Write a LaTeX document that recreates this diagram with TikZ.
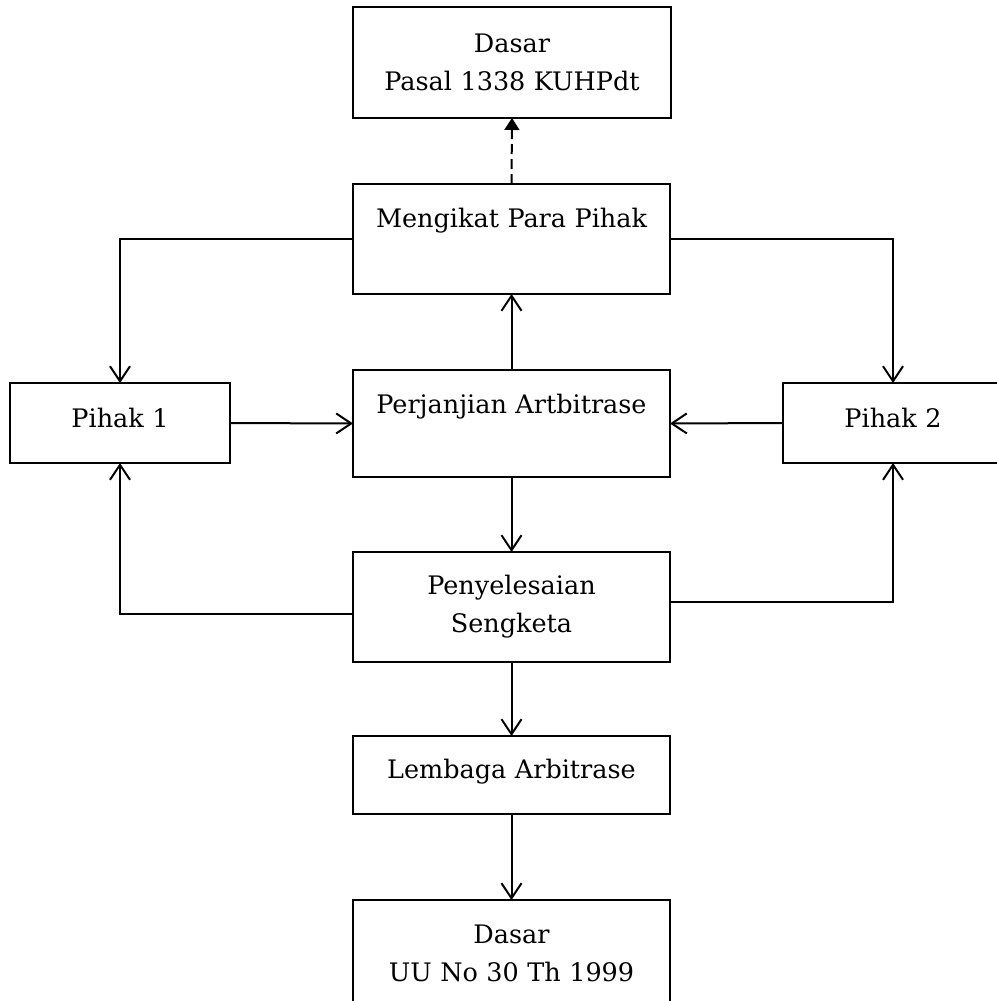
\documentclass[tikz,border=0pt]{standalone}
\usepackage{fontspec}
\setmainfont{DejaVu Serif}
\usetikzlibrary{arrows.meta}
\tikzset{
  box/.style={draw, line width=1.8pt, inner sep=0pt, outer sep=0pt, anchor=north west, align=center,
    font=\fontsize{25.5}{38.5}\selectfont},
  arr/.style={line width=2pt, -{Straight Barb[length=15pt,width=20pt,line width=2pt]}},
  darr/.style={line width=2pt, dash pattern=on 10pt off 5pt, -{Triangle[length=12pt,width=15pt]}}
}
\begin{document}
\begin{tikzpicture}[x=1pt,y=-1pt]
\useasboundingbox (0,0) rectangle (996,1001);
% boxes: text height = top->first baseline, text depth = first baseline->bottom
\node[box, text width=318pt, text height=45pt, text depth=66pt] (dasar1) at (353,7) {Dasar\\Pasal 1338 KUHPdt};
\node[box, text width=317pt, text height=43pt, text depth=67pt] (meng) at (353,184) {Mengikat Para Pihak};
\node[box, text width=317pt, text height=43pt, text depth=64pt] (perj) at (353,370) {Perjanjian Artbitrase};
\node[box, text width=220pt, text height=44pt, text depth=36pt] (p1) at (10,383) {Pihak 1};
\node[box, text width=220pt, text height=44pt, text depth=36pt] (p2) at (783,383) {Pihak 2};
\node[box, text width=317pt, text height=42pt, text depth=68pt] (peny) at (353,552) {Penyelesaian\\Sengketa};
\node[box, text width=317pt, text height=42pt, text depth=36pt] (lemb) at (353,736) {Lembaga Arbitrase};
\node[box, text width=317pt, text height=43pt, text depth=80pt] (dasar2) at (353,900) {Dasar\\UU No 30 Th 1999};
% connectors
\draw[darr] (meng.north) -- (dasar1.south);
\draw[arr] (meng.west) -| (p1.north);
\draw[arr] (meng.east) -| (p2.north);
\draw[arr] (p1.east) -- (perj.west);
\draw[arr] (p2.west) -- (perj.east);
\draw[arr] (perj.north) -- (meng.south);
\draw[arr] (perj.south) -- (peny.north);
\draw[arr] ([yshift=-7pt]peny.west) -| (p1.south);
\draw[arr] ([yshift=5pt]peny.east) -| (p2.south);
\draw[arr] (peny.south) -- (lemb.north);
\draw[arr] (lemb.south) -- (dasar2.north);
\end{tikzpicture}
\end{document}
